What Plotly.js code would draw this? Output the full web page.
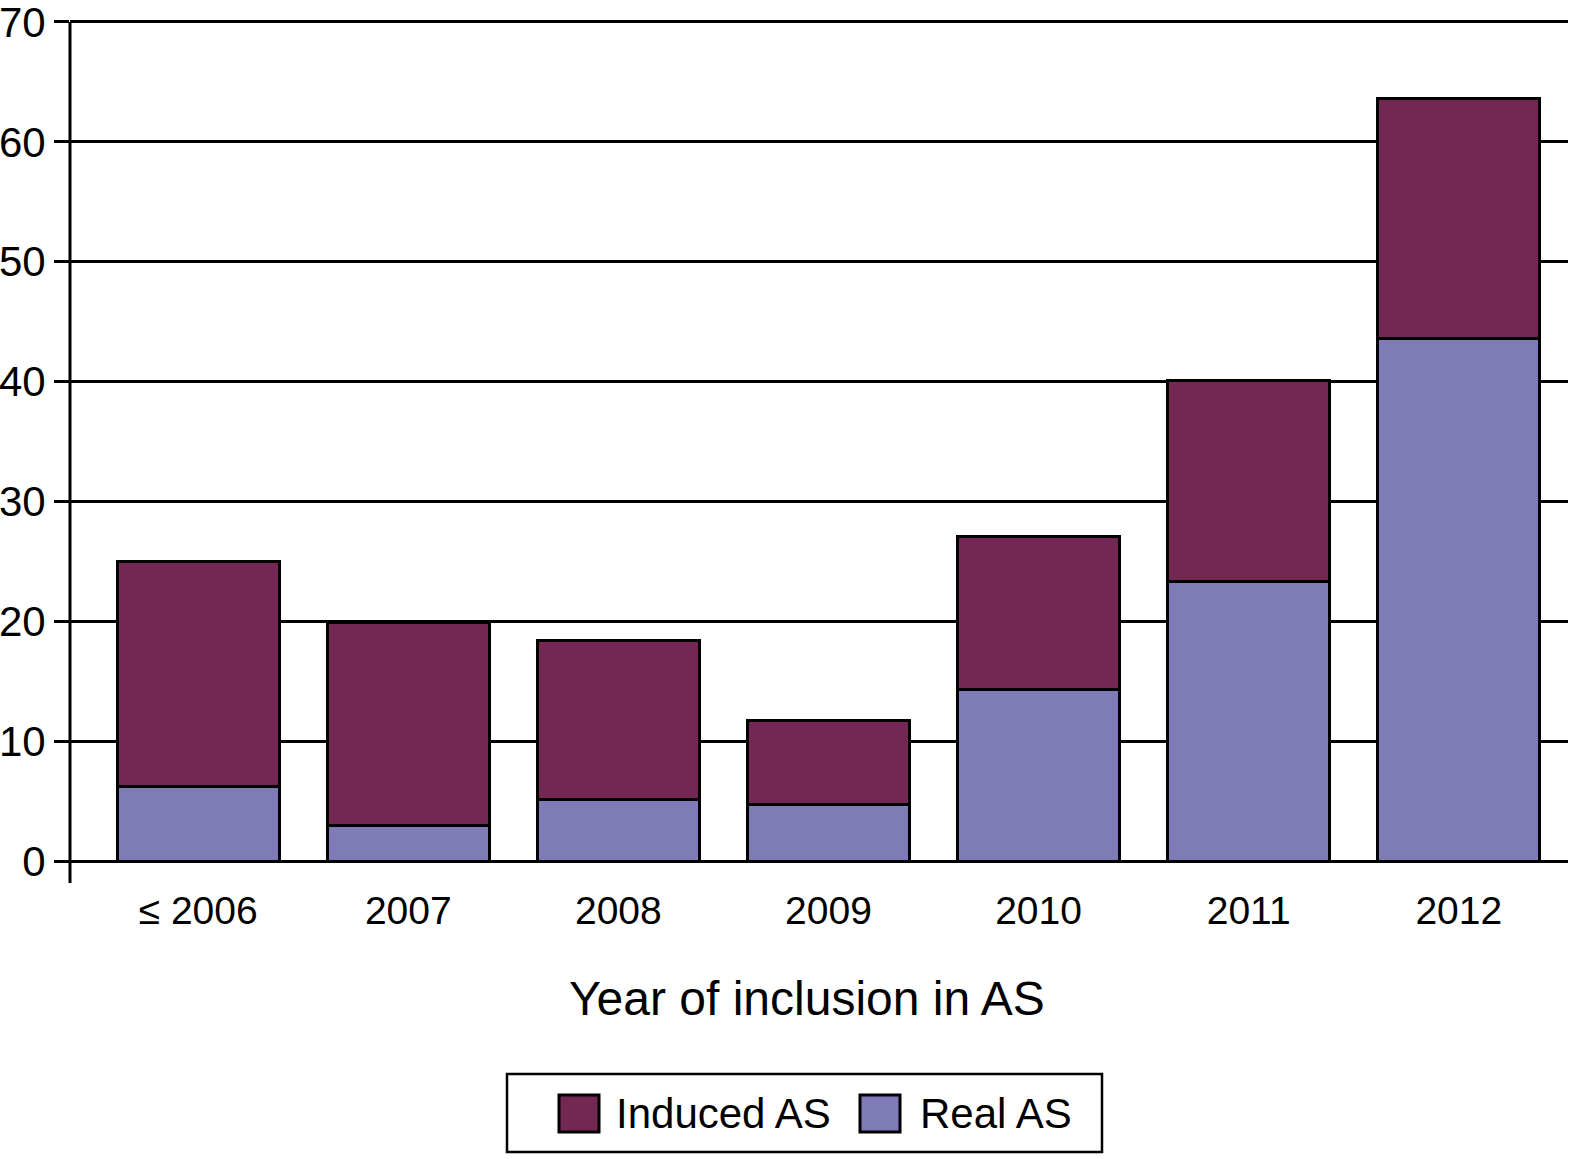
<!DOCTYPE html>
<html>
<head>
<meta charset="utf-8">
<script src="https://cdn.plot.ly/plotly-3.0.1.min.js"></script>
<style>html,body{margin:0;padding:0;background:#fff;}#chart{width:1572px;height:1159px;}</style>
</head>
<body>
<div id="chart"></div>
<script>
// Data
const categories = ["≤ 2006", "2007", "2008", "2009", "2010", "2011", "2012"];
const realAS = [6.2, 3.0, 5.1, 4.7, 14.3, 23.3, 43.6];
const inducedAS = [18.8, 16.9, 13.3, 7.0, 12.8, 16.8, 20.0];
const yTicks = [0, 10, 20, 30, 40, 50, 60, 70];

const W = 1572, H = 1159;
const YMAX = 71;
const L = 70, R = 1568, B = 861;
const T = Math.round(B - YMAX * (861 - 22) / 70);  // so that 70 sits at y=22
const px = x => (x - L) / (R - L);
const py = y => (B - y) / (B - T);

const FONT = "Liberation Sans, Arial, Helvetica, sans-serif";
const colInduced = "#722852";
const colReal = "#7f7bb7";

const traces = [
  {type: "bar", name: "Real AS", x: categories, y: realAS, width: 0.77,
   marker: {color: colReal, line: {color: "#000", width: 3}}, showlegend: false},
  {type: "bar", name: "Induced AS", x: categories, y: inducedAS, width: 0.77,
   marker: {color: colInduced, line: {color: "#000", width: 3}}, showlegend: false}
];

const shapes = [
  // y axis line from 70 down to below zero
  {type: "line", xref: "paper", yref: "paper", x0: 0, x1: 0, y0: py(22), y1: py(883), line: {color: "#000", width: 3}},
  // legend box
  {type: "rect", xref: "paper", yref: "paper", x0: px(507), x1: px(1102), y0: py(1074), y1: py(1152), line: {color: "#000", width: 2.5}, fillcolor: "rgba(0,0,0,0)"},
  {type: "rect", xref: "paper", yref: "paper", x0: px(559), x1: px(599), y0: py(1095), y1: py(1132), line: {color: "#000", width: 3}, fillcolor: colInduced},
  {type: "rect", xref: "paper", yref: "paper", x0: px(860), x1: px(900), y0: py(1095), y1: py(1132), line: {color: "#000", width: 3}, fillcolor: colReal}
];

const annotations = [
  {xref: "paper", yref: "paper", x: px(614), y: py(1113), xanchor: "left", yanchor: "middle", showarrow: false,
   text: "Induced AS", font: {family: FONT, size: 42, color: "#000"}},
  {xref: "paper", yref: "paper", x: px(918), y: py(1113), xanchor: "left", yanchor: "middle", showarrow: false,
   text: "Real AS", font: {family: FONT, size: 42, color: "#000"}},
  {xref: "paper", yref: "paper", x: px(807), y: py(998), xanchor: "center", yanchor: "middle", showarrow: false,
   text: "Year of inclusion in AS", font: {family: FONT, size: 48, color: "#000"}}
];

const layout = {
  width: W, height: H,
  margin: {l: L, r: W - R, t: T, b: H - B, pad: 0},
  paper_bgcolor: "#fff", plot_bgcolor: "#fff",
  barmode: "stack",
  showlegend: false,
  font: {family: FONT, color: "#000"},
  xaxis: {
    type: "category", range: [-0.61, 6.52],
    showgrid: false, zeroline: false, showline: false, ticks: "",
    tickfont: {family: FONT, size: 39, color: "#000"},
    ticklabelstandoff: 23
  },
  yaxis: {
    range: [0, YMAX], tickvals: yTicks, ticktext: yTicks.map(String),
    showgrid: true, gridcolor: "#000", gridwidth: 3,
    zeroline: true, zerolinecolor: "#000", zerolinewidth: 3,
    showline: false, ticks: "outside", ticklen: 15, tickwidth: 3, tickcolor: "#000",
    tickfont: {family: FONT, size: 42, color: "#000"},
    ticklabelstandoff: 0, ticklabeloverflow: "allow"
  },
  shapes: shapes,
  annotations: annotations
};

Plotly.newPlot("chart", traces, layout, {displayModeBar: false, staticPlot: true});
</script>
</body>
</html>
